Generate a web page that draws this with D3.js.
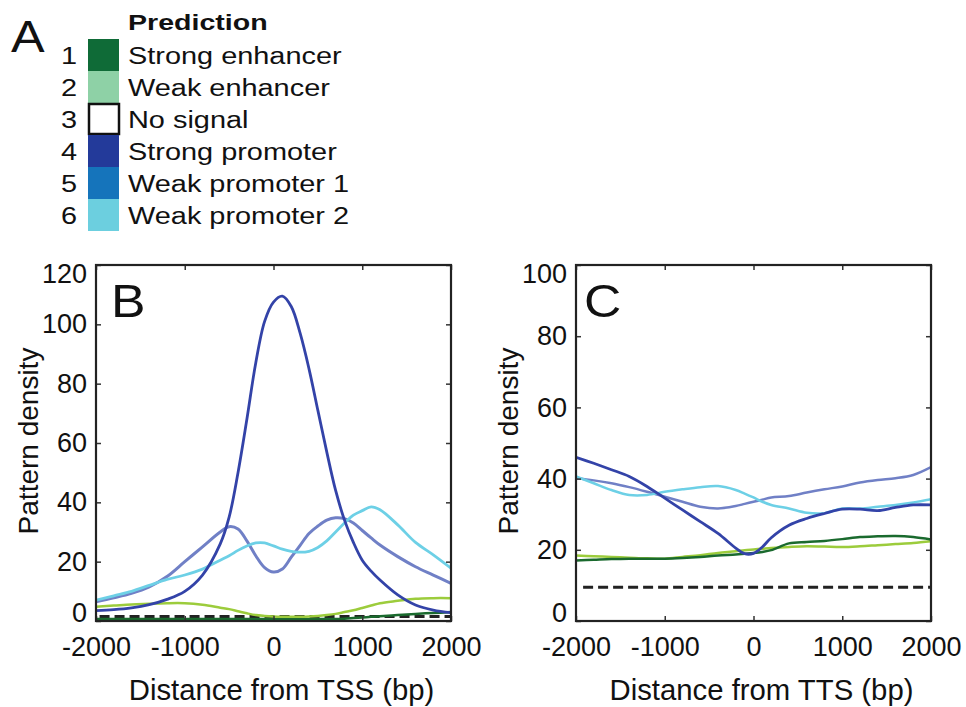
<!DOCTYPE html>
<html>
<head>
<meta charset="utf-8">
<script src="https://cdn.jsdelivr.net/npm/d3@7"></script>
<style>
  body { margin: 0; background: #fff; }
  text { font-family: "Liberation Sans", Arial, sans-serif; fill: #111; }
</style>
</head>
<body>
<div id="vis-container"></div>
<script>
// legend
var legendNames = ["Strong enhancer", "Weak enhancer", "No signal", "Strong promoter", "Weak promoter 1", "Weak promoter 2"];
var legendColors = ["#0f6b37", "#8ed1a6", "#ffffff", "#233a9a", "#1574bb", "#6ccfdf"];

// panel B (around TSS)
var xB = [-2000,-1800,-1600,-1400,-1200,-1000,-800,-600,-500,-400,-300,-200,-100,0,100,200,300,400,500,600,700,800,900,1000,1100,1200,1400,1600,1800,2000];
var strongPromB = [3.5,3.8,4.4,5.5,7.3,10,15.5,26,35,50,68,87,101,107.5,109.5,106,97,85,71,57,44,34,26.5,20.5,16.8,13.8,8.8,5.4,3.7,2.8];
var weakProm1B = [6.5,7.8,9.3,11.5,15,20,25,30,31.8,31,27,22,18,16.5,17.5,21.5,25.5,29.5,32,34,34.8,34.5,33,30.5,28,25.6,21.7,18.3,15.5,12.7];
var weakProm2B = [7,8.5,10,12,14,15.5,17.5,20.5,22,23.8,25.3,26.3,26.3,25.3,24.2,23.5,23.2,23.5,24.8,27,30,33,35.7,37.2,38.5,37.5,32.4,26.5,22.3,17.8];
var weakEnhB = [4.8,5.2,5.6,5.8,6,6,5.5,4.5,4,3.3,2.6,2,1.7,1.5,1.4,1.4,1.4,1.5,1.7,2,2.4,3,3.6,4.4,5.2,6,6.8,7.5,7.7,7.7];
var strongEnhB = [0.7,0.7,0.7,0.7,0.7,0.7,0.7,0.7,0.7,0.7,0.7,0.7,0.7,0.7,0.7,0.7,0.7,0.7,0.7,0.7,0.7,0.8,1,1.2,1.4,1.6,2,2.4,2.7,3];
var noSignalB = 1.5;

// panel C (around TTS)
var xC = [-2000,-1800,-1600,-1400,-1200,-1000,-800,-600,-400,-200,-100,0,100,200,400,600,800,1000,1200,1400,1600,1800,2000];
var strongPromC = [46,44.3,42.5,40.6,37.8,34.5,31.2,27.9,24.6,20.5,18.9,19,20.8,23.4,26.9,28.8,30.2,31.4,31.4,31,31.9,32.6,32.6];
var weakProm1C = [40.1,39.5,38.7,37.6,36.3,34.9,33.5,32.1,31.6,32.3,32.9,33.5,34.1,34.7,35.1,36.1,37,37.8,38.9,39.6,40.1,41,43.2];
var weakProm2C = [40.6,38.7,36.8,35.4,35.4,36.3,37,37.6,37.9,36.8,35.8,34.7,33.5,32.6,31.6,30.4,30.3,31.6,31.6,32.1,32.6,33.3,34.2];
var weakEnhC = [18.4,18.2,18,17.8,17.6,17.5,18,18.5,19.1,19.6,19.9,20.1,20.3,20.5,20.8,21,20.9,20.8,21,21.3,21.6,21.9,22.4];
var strongEnhC = [17,17.2,17.4,17.5,17.5,17.5,17.7,18,18.4,18.7,18.9,19.1,19.4,19.9,21.8,22.2,22.5,23,23.6,23.8,23.9,23.6,22.9];
var noSignalC = 9.5;

var xTicks = [-2000, -1000, 0, 1000, 2000];
var yTicksB = [0, 20, 40, 60, 80, 100, 120];
var yTicksC = [0, 20, 40, 60, 80, 100];

var lineColors = {
  strongEnh: "#1a6a2e",
  weakEnh: "#9ccc3c",
  strongProm: "#3343a8",
  weakProm1: "#7080c6",
  weakProm2: "#6dd0e6"
};

var svg = d3.select("#vis-container").append("svg")
  .attr("width", 966).attr("height", 707);

// ---- legend (A) -- text in the figure is a bit wider than Arial, hence scale(x,1)
var legScale = 1.23;
svg.append("text").attr("transform", "translate(11,52) scale(1.12,1)")
  .style("font-size", "45px").text("A");
svg.append("text").attr("transform", "translate(128,29.5) scale(1.27,1)")
  .style("font-size", "22.5px").style("font-weight", "bold").text("Prediction");

var rowH = 32, legTop = 39;
legendNames.forEach(function(name, i) {
  var y0 = legTop + i * rowH;
  var isWhite = legendColors[i] === "#ffffff";
  svg.append("rect")
    .attr("x", isWhite ? 89 : 88).attr("y", isWhite ? y0 + 1 : y0)
    .attr("width", isWhite ? 30 : 31).attr("height", isWhite ? 30 : rowH)
    .style("fill", legendColors[i])
    .style("stroke", isWhite ? "#111" : "none")
    .style("stroke-width", 2.5);
  svg.append("text")
    .attr("transform", "translate(77," + (y0 + 24.5) + ") scale(" + legScale + ",1)")
    .style("text-anchor", "end").style("font-size", "23.5px").text(i + 1);
  svg.append("text")
    .attr("transform", "translate(128," + (y0 + 24.5) + ") scale(" + legScale + ",1)")
    .style("font-size", "23.5px").text(name);
});

function panel(opts) {
  var left = opts.left, right = opts.left + 355, top = 265, bottom = 621;
  var x = d3.scaleLinear().domain([-2000, 2000]).range([left, right]);
  var y = d3.scaleLinear().domain(opts.yDomain).range([bottom, top]);
  var g = svg.append("g");

  var clipId = "clip" + opts.letter;
  svg.append("clipPath").attr("id", clipId)
    .append("rect").attr("x", left).attr("y", top).attr("width", right - left).attr("height", bottom - top);

  var line = d3.line()
    .x(function(d) { return x(d[0]); })
    .y(function(d) { return y(d[1]); })
    .curve(d3.curveCatmullRom.alpha(0.5));

  var lines = g.append("g").attr("clip-path", "url(#" + clipId + ")");

  lines.append("line")
    .attr("x1", x(opts.dashStart)).attr("x2", x(2000))
    .attr("y1", y(opts.noSignal)).attr("y2", y(opts.noSignal))
    .style("stroke", "#222").style("stroke-width", 3)
    .style("stroke-dasharray", "10,5");

  opts.series.forEach(function(s) {
    lines.append("path")
      .datum(opts.xs.map(function(v, i) { return [v, s.values[i]]; }))
      .attr("d", line)
      .style("fill", "none")
      .style("stroke", s.color)
      .style("stroke-width", s.width);
  });

  // axes with inner ticks (all four sides)
  var fmt = function(d) { return String(d); };
  g.append("g").attr("transform", "translate(0," + bottom + ")")
    .call(d3.axisBottom(x).tickValues(xTicks).tickSize(-5).tickPadding(16).tickFormat(fmt));
  g.append("g").attr("transform", "translate(0," + top + ")")
    .call(d3.axisTop(x).tickValues(xTicks).tickSize(-5).tickFormat(""));
  var yAxisG = g.append("g").attr("transform", "translate(" + left + ",0)")
    .call(d3.axisLeft(y).tickValues(opts.yTicks).tickSize(-5).tickPadding(9).tickFormat(fmt));
  g.append("g").attr("transform", "translate(" + right + ",0)")
    .call(d3.axisRight(y).tickValues(opts.yTicks).tickSize(-5).tickFormat(""));

  g.selectAll(".domain").remove();
  g.selectAll(".tick line").style("stroke", "#333").style("stroke-width", 1.5);
  g.selectAll(".tick text").style("font-size", "27px").style("fill", "#111")
    .style("font-family", "'Liberation Sans', Arial, sans-serif");

  // end labels of the y axis are pulled inside the axis range
  var yMin = opts.yDomain[0], yMax = opts.yDomain[1];
  yAxisG.selectAll(".tick text").attr("dy", function(d) {
    if (d === yMin) return "0";
    if (d === yMax) return "0.64em";
    return "0.32em";
  });

  g.append("rect")
    .attr("x", left).attr("y", top).attr("width", right - left).attr("height", bottom - top)
    .style("fill", "none").style("stroke", "#222").style("stroke-width", 2.2);

  g.append("text")
    .attr("transform", "translate(" + (left + opts.letterDx) + ",317) scale(1.1,1)")
    .style("font-size", "47px").text(opts.letter);

  g.append("text")
    .attr("transform", "translate(" + (left - 58) + "," + 441 + ") rotate(-90)")
    .style("text-anchor", "middle").style("font-size", "28px")
    .text("Pattern density");

  g.append("text").attr("x", (left + right) / 2 + 8).attr("y", 700)
    .style("text-anchor", "middle").style("font-size", "29.3px")
    .text(opts.xTitle);
}

panel({
  letter: "B", letterDx: 15, left: 96, yDomain: [0, 120], yTicks: yTicksB,
  xTitle: "Distance from TSS (bp)", xs: xB, noSignal: noSignalB, dashStart: -1960,
  series: [
    { values: strongEnhB, color: lineColors.strongEnh, width: 2.5 },
    { values: weakEnhB, color: lineColors.weakEnh, width: 2.5 },
    { values: weakProm1B, color: lineColors.weakProm1, width: 3 },
    { values: weakProm2B, color: lineColors.weakProm2, width: 2.8 },
    { values: strongPromB, color: lineColors.strongProm, width: 2.8 }
  ]
});

panel({
  letter: "C", letterDx: 8, left: 576, yDomain: [0, 100], yTicks: yTicksC,
  xTitle: "Distance from TTS (bp)", xs: xC, noSignal: noSignalC, dashStart: -1920,
  series: [
    { values: weakEnhC, color: lineColors.weakEnh, width: 2.5 },
    { values: strongEnhC, color: lineColors.strongEnh, width: 2.5 },
    { values: weakProm1C, color: lineColors.weakProm1, width: 2.5 },
    { values: weakProm2C, color: lineColors.weakProm2, width: 2.5 },
    { values: strongPromC, color: lineColors.strongProm, width: 2.8 }
  ]
});
</script>
</body>
</html>
